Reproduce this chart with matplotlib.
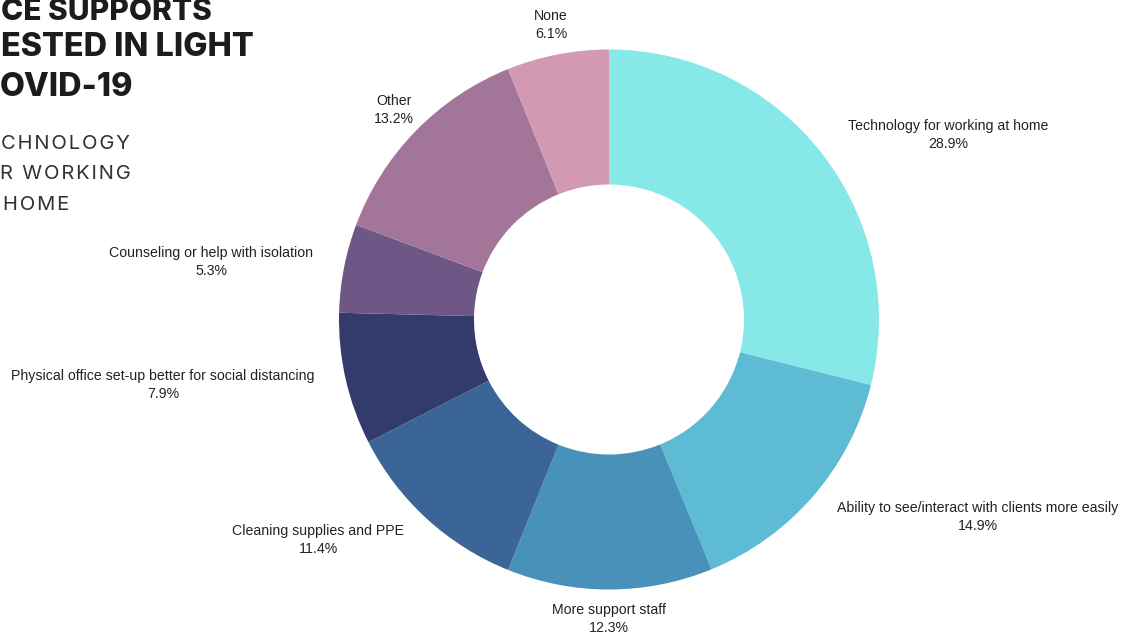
import matplotlib
matplotlib.use("Agg")
import matplotlib.pyplot as plt
import numpy as np

# Survey categories and their shares (%)
categories = [
    "Technology for working at home",
    "Ability to see/interact with clients more easily",
    "More support staff",
    "Cleaning supplies and PPE",
    "Physical office set-up better for social distancing",
    "Counseling or help with isolation",
    "Other",
    "None",
]
shares = [28.9, 14.9, 12.3, 11.4, 7.9, 5.3, 13.2, 6.1]

colors = ["#87E8E8", "#5DBCD3", "#4892BA", "#3B6596", "#333B6D",
          "#6E5686", "#A37599", "#D398B2"]

# Label anchor points in pixel space (x, y from top)
label_pos = [(948, 135), (978, 517), (609, 619), (318, 540),
             (163, 385), (211, 262), (394, 110), (551, 25)]

W, H = 1127, 639
fig = plt.figure(figsize=(W / 100, H / 100), dpi=100)
ax = fig.add_axes([0, 0, 1, 1])

cx, cy, R = 609, H - 319.5, 270
ax.pie(shares, colors=colors, startangle=90, counterclock=False,
       center=(cx, cy), radius=R,
       wedgeprops=dict(width=R * 0.5, linewidth=0))
ax.set_xlim(0, W)
ax.set_ylim(0, H)
ax.set_aspect("equal")
ax.axis("off")

for name, val, (lx, ly) in zip(categories, shares, label_pos):
    ax.text(lx, H - ly, f"{name}\n{val:.1f}%", ha="center", va="center",
            fontsize=10.2, family="Liberation Sans", color="#222222",
            linespacing=1.45)

# Headline block at the upper left (the visible part of the banner)
title_lines = ["CE SUPPORTS", "ESTED IN LIGHT", "OVID-19"]
title_left = [1, 1, 0]
title_y = [12, 47, 87]
title_size = [21.5, 23.3, 23.3]
for t, lx, y, s in zip(title_lines, title_left, title_y, title_size):
    fig.text(lx / W, 1 - y / H, t, ha="left", va="center",
             fontsize=s, fontweight="heavy", family="Inter",
             color="#1c1c1c")

sub_lines = ["CHNOLOGY", "R WORKING", "HOME"]
sub_left = [1, 0, 3]
sub_y = [144, 174, 205]
for t, lx, y in zip(sub_lines, sub_left, sub_y):
    spaced = "\u200a".join(t)
    fig.text(lx / W, 1 - y / H, spaced, ha="left", va="center",
             fontsize=14.5, fontweight="normal", family="Inter",
             color="#333333")

fig.savefig("out.png", dpi=100, facecolor="white")
